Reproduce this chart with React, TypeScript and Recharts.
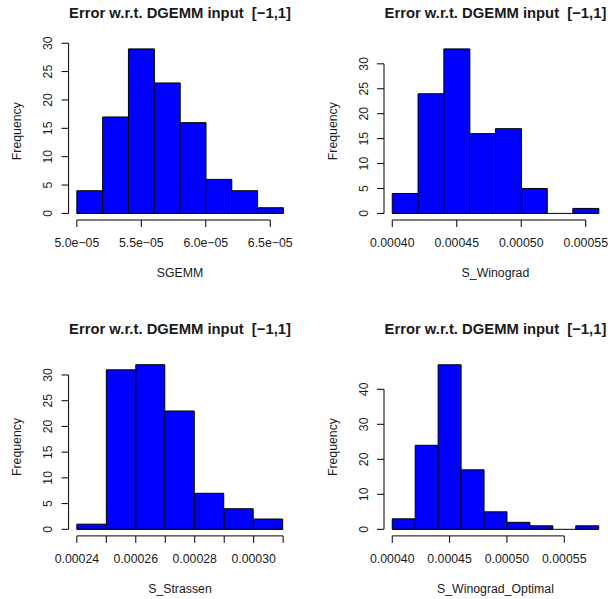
import React from 'react';
import { ComposedChart, Bar, XAxis, YAxis, ReferenceLine, Label } from 'recharts';

const TITLE = 'Error w.r.t. DGEMM input  [\u22121,1]';
const FONT = "'Liberation Sans', Arial, Helvetica, sans-serif";
const TEXT = '#1a1a1a';

// SGEMM
const sgemmBreaks = [5.0e-5, 5.2e-5, 5.4e-5, 5.6e-5, 5.8e-5, 6.0e-5, 6.2e-5, 6.4e-5, 6.6e-5];
const sgemmCounts = [4, 17, 29, 23, 16, 6, 4, 1];
const sgemmTicks = [5.0e-5, 5.5e-5, 6.0e-5, 6.5e-5];
const sgemmTickLabels = ['5.0e\u221205', '5.5e\u221205', '6.0e\u221205', '6.5e\u221205'];
const sgemmYTicks = [0, 5, 10, 15, 20, 25, 30];

// S_Winograd
const winoBreaks = [0.0004, 0.00042, 0.00044, 0.00046, 0.00048, 0.0005, 0.00052, 0.00054, 0.00056];
const winoCounts = [4, 24, 33, 16, 17, 5, 0, 1];
const winoTicks = [0.0004, 0.00045, 0.0005, 0.00055];
const winoTickLabels = ['0.00040', '0.00045', '0.00050', '0.00055'];
const winoYTicks = [0, 5, 10, 15, 20, 25, 30];

// S_Strassen
const strassenBreaks = [0.00024, 0.00025, 0.00026, 0.00027, 0.00028, 0.00029, 0.0003, 0.00031];
const strassenCounts = [1, 31, 32, 23, 7, 4, 2];
const strassenTicks = [0.00024, 0.00025, 0.00026, 0.00027, 0.00028, 0.00029, 0.0003, 0.00031];
const strassenTickLabels = ['0.00024', '', '0.00026', '', '0.00028', '', '0.00030', ''];
const strassenYTicks = [0, 5, 10, 15, 20, 25, 30];

// S_Winograd_Optimal
const optBreaks = [0.0004, 0.00042, 0.00044, 0.00046, 0.00048, 0.0005, 0.00052, 0.00054, 0.00056, 0.00058];
const optCounts = [3, 24, 47, 17, 5, 2, 1, 0, 1];
const optTicks = [0.0004, 0.00045, 0.0005, 0.00055];
const optTickLabels = ['0.00040', '0.00045', '0.00050', '0.00055'];
const optYTicks = [0, 10, 20, 30, 40];

const Hist = ({ breaks, counts, ticks, tickLabels, yTicks, xlab, left, top, margin }: any) => {
  const W = 304;
  const H = 300;
  const data = counts.map((c: number, i: number) => ({ mid: (breaks[i] + breaks[i + 1]) / 2, count: c }));
  const lo = breaks[0];
  const hi = breaks[breaks.length - 1];
  // R's default 4% axis extension
  const xPad = (hi - lo) * 0.04;
  const xDomain = [lo - xPad, hi + xPad];
  const yMax = Math.max(...counts);
  const yDomain = [-yMax * 0.04, yMax * 1.04];
  const fmt = (v: number) => {
    const i = ticks.findIndex((t: number) => Math.abs(t - v) < 1e-12);
    return i >= 0 ? tickLabels[i] : '';
  };
  const plotLeft = margin.left + 50;
  const plotWidth = W - plotLeft - margin.right;

  const xTick = (p: any) => (
    <text x={p.x} y={p.y + 20.4} textAnchor="middle" fontSize={12.3} fontFamily={FONT} fill={TEXT}>
      {fmt(p.payload.value)}
    </text>
  );
  const yTick = (p: any) => {
    const bx = p.x - 9.1;
    return (
      <text x={bx} y={p.y} transform={`rotate(-90 ${bx} ${p.y})`} textAnchor="middle"
        fontSize={12.3} fontFamily={FONT} fill={TEXT}>
        {p.payload.value}
      </text>
    );
  };
  const xLabel = (p: any) => {
    const vb = p.viewBox;
    return (
      <text x={vb.x + vb.width / 2} y={vb.y + 57} textAnchor="middle" fontSize={12.3} fontFamily={FONT} fill={TEXT}>
        {xlab}
      </text>
    );
  };
  const yLabel = (p: any) => {
    const vb = p.viewBox;
    const bx = vb.x + vb.width - 47.3;
    const cy = vb.y + vb.height / 2;
    return (
      <text x={bx} y={cy} transform={`rotate(-90 ${bx} ${cy})`} textAnchor="middle"
        fontSize={12.3} fontFamily={FONT} fill={TEXT}>
        Frequency
      </text>
    );
  };

  return (
    <div style={{ position: 'absolute', left, top, width: W, height: H }}>
      <div
        style={{
          position: 'absolute',
          left: plotLeft,
          width: plotWidth,
          top: margin.top - 36.4,
          textAlign: 'center',
          fontFamily: FONT,
          fontWeight: 'bold',
          fontSize: 14.8,
          lineHeight: '14.8px',
          whiteSpace: 'pre',
          color: TEXT,
        }}
      >
        {TITLE}
      </div>
      <ComposedChart width={W} height={H} data={data} margin={margin} barCategoryGap={0} barGap={0}>
        <XAxis
          type="number"
          dataKey="mid"
          domain={xDomain}
          ticks={ticks}
          interval={0}
          allowDataOverflow
          axisLine={false}
          tickLine={{ stroke: '#000' }}
          tickSize={7}
          tickMargin={0}
          tick={xTick}
          height={30}
          label={<Label content={xLabel} />}
        />
        <YAxis
          type="number"
          domain={yDomain}
          ticks={yTicks}
          interval={0}
          allowDataOverflow
          axisLine={false}
          tickLine={{ stroke: '#000' }}
          tickSize={7}
          tickMargin={0}
          tick={yTick}
          width={50}
          label={<Label content={yLabel} />}
        />
        <ReferenceLine
          segment={[{ x: lo, y: 0 }, { x: hi, y: 0 }]}
          stroke="#000"
          ifOverflow="visible"
        />
        <Bar dataKey="count" fill="#0000FF" stroke="#000" strokeWidth={1} isAnimationActive={false} />
        <ReferenceLine
          segment={[{ x: ticks[0], y: yDomain[0] }, { x: ticks[ticks.length - 1], y: yDomain[0] }]}
          stroke="#000"
          ifOverflow="visible"
        />
        <ReferenceLine
          segment={[{ x: xDomain[0], y: yTicks[0] }, { x: xDomain[0], y: yTicks[yTicks.length - 1] }]}
          stroke="#000"
          ifOverflow="visible"
        />
      </ComposedChart>
    </div>
  );
};

export default function App() {
  return (
    <div style={{ position: 'absolute', left: 0, top: 0, width: 608, height: 599, background: '#fff' }}>
      <Hist breaks={sgemmBreaks} counts={sgemmCounts} ticks={sgemmTicks} tickLabels={sgemmTickLabels}
        yTicks={sgemmYTicks} xlab="SGEMM" left={0} top={0}
        margin={{ top: 42.3, right: 12.6, bottom: 50, left: 18.6 }} />
      <Hist breaks={winoBreaks} counts={winoCounts} ticks={winoTicks} tickLabels={winoTickLabels}
        yTicks={winoYTicks} xlab="S_Winograd" left={304} top={0}
        margin={{ top: 42.3, right: 1.1, bottom: 50, left: 30 }} />
      <Hist breaks={strassenBreaks} counts={strassenCounts} ticks={strassenTicks} tickLabels={strassenTickLabels}
        yTicks={strassenYTicks} xlab="S_Strassen" left={0} top={300}
        margin={{ top: 58.1, right: 12.6, bottom: 34.1, left: 18.6 }} />
      <Hist breaks={optBreaks} counts={optCounts} ticks={optTicks} tickLabels={optTickLabels}
        yTicks={optYTicks} xlab="S_Winograd_Optimal" left={304} top={300}
        margin={{ top: 58.2, right: 1.1, bottom: 34.1, left: 30 }} />
    </div>
  );
}
